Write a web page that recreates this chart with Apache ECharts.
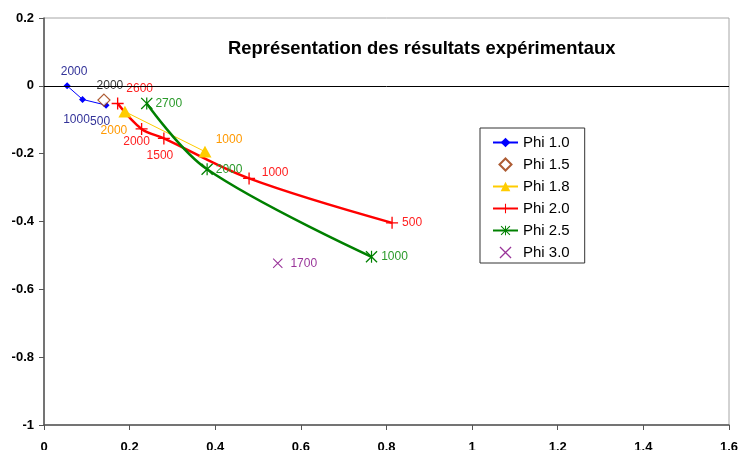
<!DOCTYPE html>
<html>
<head>
<meta charset="utf-8">
<script src="https://cdn.jsdelivr.net/npm/echarts@6/dist/echarts.min.js"></script>
<style>
  html, body { margin: 0; padding: 0; background: #fff; }
  #chart { width: 741px; height: 450px; }
</style>
</head>
<body>
<div id="chart"></div>
<script>
// Experimental results: each series is one Phi value, points are [x, y], tags are the run speeds
const titleText = 'Représentation des résultats expérimentaux';
const seriesNames = ['Phi 1.0', 'Phi 1.5', 'Phi 1.8', 'Phi 2.0', 'Phi 2.5', 'Phi 3.0'];

const phi10 = [[0.054, 0.000], [0.090, -0.040], [0.145, -0.057]];
const phi10Tags = ['2000', '1000', '500'];

const phi15 = [[0.140, -0.042]];
const phi15Tags = ['2000'];

const phi18 = [[0.189, -0.076], [0.376, -0.194]];
const phi18Tags = ['2000', '1000'];

const phi20 = [[0.172, -0.052], [0.228, -0.127], [0.280, -0.155], [0.479, -0.273], [0.813, -0.404]];
const phi20Tags = ['2600', '2000', '1500', '1000', '500'];

const phi25 = [[0.240, -0.052], [0.381, -0.246], [0.765, -0.504]];
const phi25Tags = ['2700', '2000', '1000'];

const phi30 = [[0.546, -0.523]];
const phi30Tags = ['1700'];

const xTicks = { min: 0, max: 1.6, step: 0.2 };
const yTicks = { min: -1, max: 0.2, step: 0.2 };

// marker shapes drawn as filled outlines (kept square in the legend too)
const diamondPath = 'path://M5,0L10,5L5,10L0,5Z';
const trianglePath = 'path://M5,0L10,9L0,9Z';
const plusPath = 'path://M4.45,0H5.55V10H4.45ZM0,4.45H10V5.55H0Z';
const crossPath = 'path://M0,0.75L0.75,0L10,9.25L9.25,10ZM9.25,0L10,0.75L0.75,10L0,9.25Z';
const starPath = 'path://M4.5,0H5.5V10H4.5ZM0,0.75L0.75,0L10,9.25L9.25,10ZM9.25,0L10,0.75L0.75,10L0,9.25Z';

const font = "'Liberation Sans', Arial, sans-serif";

// where each value tag sits relative to its marker (centre offset, px)
const tagOffsets = {
  'Phi 1.0': [[7, -14], [-6, 20], [-6, 17]],
  'Phi 1.5': [[6, -14]],
  'Phi 1.8': [[-11, 19], [24, -12]],
  'Phi 2.0': [[22, -15], [-5, 13], [-4, 17], [26, -6], [20, 0]],
  'Phi 2.5': [[22, 0], [22, 0], [23, 0]],
  'Phi 3.0': [[26, 0]]
};

function points(name, pts, tags, color) {
  return pts.map((p, i) => ({
    value: p,
    label: {
      show: true,
      position: 'inside',
      offset: tagOffsets[name][i],
      formatter: tags[i],
      color: color,
      fontSize: 12,
      fontFamily: font
    }
  }));
}

const option = {
  animation: false,
  backgroundColor: '#ffffff',
  title: {
    text: titleText,
    left: 223,
    top: 35,
    textStyle: { fontFamily: font, fontSize: 18.4, fontWeight: 'bold', color: '#000' }
  },
  legend: {
    orient: 'vertical',
    left: 480,
    top: 128,
    padding: [7, 15, 3, 12],
    itemWidth: 25,
    itemHeight: 12,
    itemGap: 7,
    symbolKeepAspect: true,
    borderColor: '#333',
    borderWidth: 1,
    backgroundColor: '#fff',
    data: seriesNames,
    textStyle: { fontFamily: font, fontSize: 15, color: '#000' }
  },
  grid: {
    left: 44, top: 18, right: 12, bottom: 25,
    outerBoundsMode: 'none',
    containLabel: false,
    show: true,
    borderColor: '#a6a6a6',
    borderWidth: 1
  },
  xAxis: {
    type: 'value',
    min: xTicks.min, max: xTicks.max, interval: xTicks.step,
    axisLine: { show: true, onZero: false, lineStyle: { color: '#555', width: 1.5 } },
    axisTick: { show: true, length: 5, lineStyle: { color: '#555' } },
    splitLine: { show: false },
    axisLabel: { margin: 16, fontFamily: font, fontSize: 13, fontWeight: 'bold', color: '#000' }
  },
  yAxis: {
    type: 'value',
    min: yTicks.min, max: yTicks.max, interval: yTicks.step,
    axisLine: { show: true, onZero: false, lineStyle: { color: '#555', width: 1.5 } },
    axisTick: { show: true, length: 5, lineStyle: { color: '#555' } },
    splitLine: { show: false },
    axisLabel: { margin: 10, fontFamily: font, fontSize: 13, fontWeight: 'bold', color: '#000' }
  },
  series: [
    {
      name: 'Phi 1.0', type: 'line',
      data: points('Phi 1.0', phi10, phi10Tags, '#333399'),
      symbol: diamondPath, symbolSize: 7, symbolKeepAspect: true,
      itemStyle: { color: '#0000ff' },
      lineStyle: { color: '#0000ff', width: 1 },
      markLine: {
        silent: true, symbol: 'none', label: { show: false },
        lineStyle: { color: '#000', width: 1, type: 'solid' },
        data: [{ yAxis: 0 }]
      },
      z: 3
    },
    {
      name: 'Phi 1.5', type: 'scatter',
      data: points('Phi 1.5', phi15, phi15Tags, '#000000'),
      symbol: diamondPath, symbolSize: 12, symbolKeepAspect: true,
      itemStyle: { color: '#ffffff', borderColor: '#993300', borderWidth: 1.2 },
      z: 3
    },
    {
      name: 'Phi 1.8', type: 'line',
      data: points('Phi 1.8', phi18, phi18Tags, '#ff9900'),
      symbol: trianglePath, symbolSize: 13, symbolKeepAspect: true,
      itemStyle: { color: '#ffcc00' },
      lineStyle: { color: '#ffcc00', width: 1 },
      z: 3
    },
    {
      name: 'Phi 2.0', type: 'line', smooth: 0.35,
      data: points('Phi 2.0', phi20, phi20Tags, '#ff2020'),
      symbol: plusPath, symbolSize: 12, symbolKeepAspect: true,
      itemStyle: { color: '#ff0000' },
      lineStyle: { color: '#ff0000', width: 2.5 },
      z: 3
    },
    {
      name: 'Phi 2.5', type: 'line', smooth: 0.35,
      data: points('Phi 2.5', phi25, phi25Tags, '#2a9a2a'),
      symbol: starPath, symbolSize: 12, symbolKeepAspect: true,
      itemStyle: { color: '#008000' },
      lineStyle: { color: '#008000', width: 2.5 },
      z: 4
    },
    {
      name: 'Phi 3.0', type: 'scatter',
      data: points('Phi 3.0', phi30, phi30Tags, '#800080'),
      symbol: crossPath, symbolSize: 10, symbolKeepAspect: true,
      itemStyle: { color: '#800080' },
      z: 4
    }
  ]
};

const chart = echarts.init(document.getElementById('chart'), null, { renderer: 'canvas' });
chart.setOption(option);
</script>
</body>
</html>
